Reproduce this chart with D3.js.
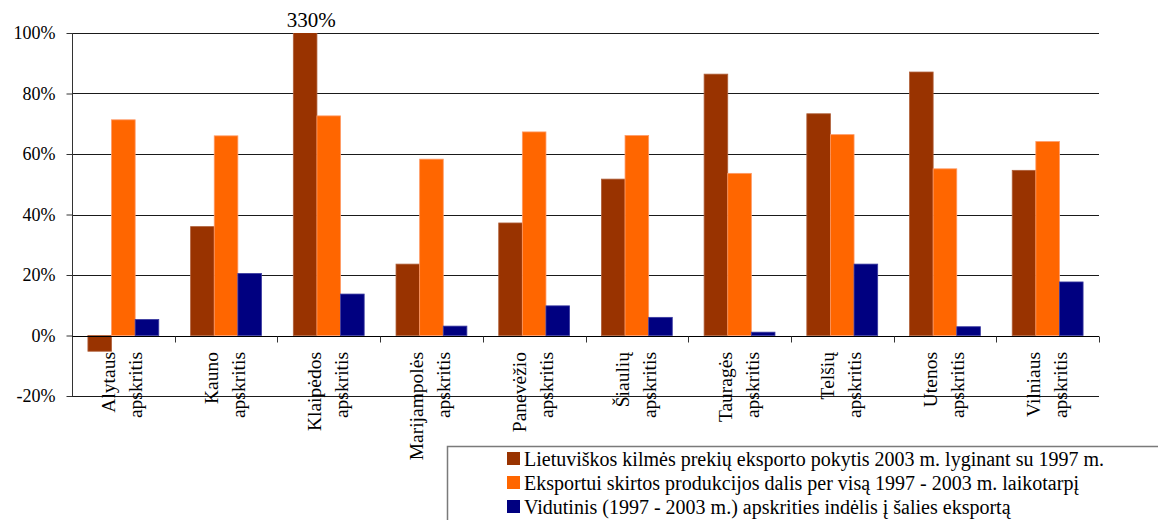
<!DOCTYPE html>
<html>
<head>
<meta charset="utf-8">
<script src="https://cdn.jsdelivr.net/npm/d3@7"></script>
<style>
  html, body { margin: 0; padding: 0; background: #fff; }
  svg { display: block; font-family: "Liberation Serif", "Times New Roman", serif; }
</style>
</head>
<body>
<svg id="chart" width="1158" height="520"></svg>
<script>
// County names (each drawn on two rotated lines)
const categories = [
  "Alytaus apskritis", "Kauno apskritis", "Klaipėdos apskritis", "Marijampolės apskritis",
  "Panevėžio apskritis", "Šiaulių apskritis", "Tauragės apskritis", "Telšių apskritis",
  "Utenos apskritis", "Vilniaus apskritis"
];

// Series values, percent
const exportChange = [-5.2, 36.0, 330, 23.6, 37.2, 51.7, 86.4, 73.3, 87.1, 54.6];
const exportShare = [71.3, 66.0, 72.6, 58.3, 67.3, 66.1, 53.6, 66.4, 55.1, 64.1];
const countyContribution = [5.3, 20.5, 13.7, 3.1, 9.8, 6.0, 1.1, 23.6, 2.9, 17.7];

const seriesNames = [
  "Lietuviškos kilmės prekių eksporto pokytis 2003 m. lyginant su 1997 m.",
  "Eksportui skirtos produkcijos dalis per visą 1997 - 2003 m. laikotarpį",
  "Vidutinis (1997 - 2003 m.) apskrities indėlis į šalies eksportą"
];
const seriesColors = ["#993300", "#FF6600", "#000080"];
const seriesEdge = ["#b0603a", "#ff9a66", "#3a3aa0"];

const yTicks = [-20, 0, 20, 40, 60, 80, 100];

const series = [exportChange, exportShare, countyContribution];

const svg = d3.select("#chart");
const plotLeft = 72, plotRight = 1099, plotTop = 33, plotBottom = 396;

const x0 = d3.scaleBand().domain(categories).range([plotLeft, plotRight]).padding(0);
const bw = x0.bandwidth();
const x1 = d3.scaleBand().domain(d3.range(series.length))
  .range([bw * 0.155, bw * 0.845]).padding(0);
const y = d3.scaleLinear().domain([-20, 100]).range([plotBottom, plotTop]);

// Horizontal gridlines
svg.append("g")
  .selectAll("line")
  .data(yTicks)
  .join("line")
  .attr("x1", plotLeft).attr("x2", plotRight)
  .attr("y1", d => Math.round(y(d)) + 0.5).attr("y2", d => Math.round(y(d)) + 0.5)
  .attr("stroke", "#1a1a1a").attr("stroke-width", 1);

// Clip region for bars that exceed the axis range
svg.append("clipPath").attr("id", "plotClip")
  .append("rect").attr("x", plotLeft).attr("y", plotTop)
  .attr("width", plotRight - plotLeft).attr("height", plotBottom - plotTop);

// Bars
const gBars = svg.append("g").attr("clip-path", "url(#plotClip)");
series.forEach((vals, si) => {
  gBars.append("g")
    .selectAll("rect")
    .data(vals.map((v, i) => ({ v, c: categories[i] })))
    .join("rect")
    .attr("x", d => x0(d.c) + x1(si))
    .attr("width", x1.bandwidth())
    .attr("y", d => y(Math.max(0, d.v)))
    .attr("height", d => Math.abs(y(d.v) - y(0)))
    .attr("fill", seriesColors[si])
    .attr("stroke", seriesEdge[si])
    .attr("stroke-width", 0.8);
});

// Values beyond the axis maximum get a label at the top
const over = [];
series.forEach((vals, si) => vals.forEach((v, i) => { if (v > 100) over.push({ v, c: categories[i], si }); }));
svg.append("g")
  .selectAll("text")
  .data(over)
  .join("text")
  .attr("x", d => x0(d.c) + x1(d.si) + x1.bandwidth() / 2 + 6)
  .attr("y", 27)
  .attr("text-anchor", "middle")
  .attr("font-size", 21)
  .attr("fill", "#000")
  .text(d => d.v + "%");

// Y axis
const yAxis = d3.axisLeft(y).tickValues(yTicks).tickFormat(d => d + "%").tickSize(6).tickPadding(11);
const gy = svg.append("g").attr("transform", `translate(${plotLeft + 0.5},0)`).call(yAxis);
gy.attr("font-family", null);
gy.select(".domain").attr("stroke", "#333").attr("d", `M0,${plotTop}V${plotBottom}`);
gy.selectAll(".tick line").attr("stroke", "#333");
gy.selectAll(".tick text")
  .attr("font-family", "Liberation Serif, Times New Roman, serif")
  .attr("font-size", 18).attr("fill", "#000");

// X axis at zero, ticks on category boundaries
const zeroY = Math.round(y(0)) + 0.5;
svg.append("line").attr("x1", plotLeft).attr("x2", plotRight).attr("y1", zeroY).attr("y2", zeroY)
  .attr("stroke", "#000");
const boundaries = categories.map(c => x0(c)).concat([plotRight]);
svg.append("g").selectAll("line").data(boundaries).join("line")
  .attr("x1", d => Math.round(d) + 0.5).attr("x2", d => Math.round(d) + 0.5)
  .attr("y1", zeroY).attr("y2", zeroY + 6)
  .attr("stroke", "#333");

// Rotated category labels
const gLab = svg.append("g");
categories.forEach(c => {
  const parts = c.split(" ");
  const cx = x0(c) + bw / 2;
  const t = gLab.append("text")
    .attr("transform", `translate(${cx},352) rotate(-90)`)
    .attr("text-anchor", "end")
    .attr("font-size", 19.5)
    .attr("fill", "#000");
  t.append("tspan").attr("x", 0).attr("y", -8).text(parts[0]);
  t.append("tspan").attr("x", 0).attr("y", 19).text(parts[1]);
});

// Legend
const gLeg = svg.append("g");
gLeg.append("rect")
  .attr("x", 447.5).attr("y", 446.5).attr("width", 760).attr("height", 100)
  .attr("fill", "#fff").attr("stroke", "#7a7a7a").attr("stroke-width", 1.5);
seriesNames.forEach((name, i) => {
  const base = 466 + i * 24;
  gLeg.append("rect").attr("x", 507).attr("y", base - 14).attr("width", 13).attr("height", 13)
    .attr("fill", seriesColors[i]);
  gLeg.append("text").attr("x", 524).attr("y", base)
    .attr("font-size", 20).attr("fill", "#000").text(name);
});
</script>
</body>
</html>
